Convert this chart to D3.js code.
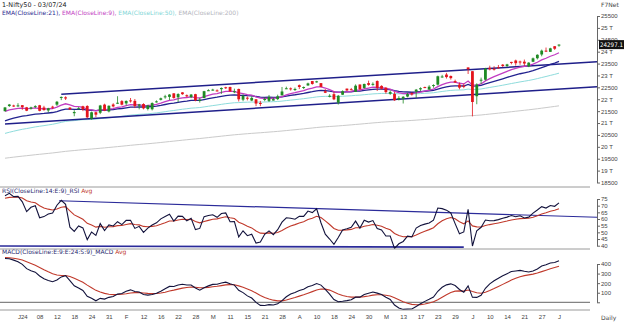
<!DOCTYPE html>
<html>
<head>
<meta charset="utf-8">
<script src="https://cdn.jsdelivr.net/npm/d3@7"></script>
<style>
  body { margin: 0; background: #fff; }
  svg { display: block; font-family: "DejaVu Sans", Verdana, sans-serif; }
  .axis text { fill: #444; font-size: 6px; }
  .axis line, .axis path { stroke: #666; }
</style>
</head>
<body>
<div id="chart"></div>
<script>
// --- Data: Nifty50 daily candles ---
const dates = [
  '2023-12-27','2023-12-28','2023-12-29','2024-01-01','2024-01-02','2024-01-03','2024-01-04','2024-01-05',
  '2024-01-08','2024-01-09','2024-01-10','2024-01-11','2024-01-12','2024-01-15','2024-01-16','2024-01-17',
  '2024-01-18','2024-01-19','2024-01-20','2024-01-23','2024-01-24','2024-01-25','2024-01-29','2024-01-30',
  '2024-01-31','2024-02-01','2024-02-02','2024-02-05','2024-02-06','2024-02-07','2024-02-08','2024-02-09',
  '2024-02-12','2024-02-13','2024-02-14','2024-02-15','2024-02-16','2024-02-19','2024-02-20','2024-02-21',
  '2024-02-22','2024-02-23','2024-02-26','2024-02-27','2024-02-28','2024-02-29','2024-03-01','2024-03-02',
  '2024-03-04','2024-03-05','2024-03-06','2024-03-07','2024-03-11','2024-03-12','2024-03-13','2024-03-14',
  '2024-03-15','2024-03-18','2024-03-19','2024-03-20','2024-03-21','2024-03-22','2024-03-26','2024-03-27',
  '2024-03-28','2024-04-01','2024-04-02','2024-04-03','2024-04-04','2024-04-05','2024-04-08','2024-04-09',
  '2024-04-10','2024-04-12','2024-04-15','2024-04-16','2024-04-18','2024-04-19','2024-04-22','2024-04-23',
  '2024-04-24','2024-04-25','2024-04-26','2024-04-29','2024-04-30','2024-05-02','2024-05-03','2024-05-06',
  '2024-05-07','2024-05-08','2024-05-09','2024-05-10','2024-05-13','2024-05-14','2024-05-15','2024-05-16',
  '2024-05-17','2024-05-18','2024-05-21','2024-05-22','2024-05-23','2024-05-24','2024-05-27','2024-05-28',
  '2024-05-29','2024-05-30','2024-05-31','2024-06-03','2024-06-04','2024-06-05','2024-06-06','2024-06-07',
  '2024-06-10','2024-06-11','2024-06-12','2024-06-13','2024-06-14','2024-06-18','2024-06-19','2024-06-20',
  '2024-06-21','2024-06-24','2024-06-25','2024-06-26','2024-06-27','2024-06-28','2024-07-01','2024-07-02',
  '2024-07-03'
];
const opens = [
  21497,21715,21737,21727,21751,21661,21605,21705,21747,21653,21529,21688,21773,22054,22081,21647,
  21414,21615,21706,21716,21185,21454,21433,21775,21487,21780,21812,21921,21825,21952,21932,21727,
  21800,21590,21578,21906,21977,22096,22099,22249,22082,22290,22169,22090,22214,21935,22049,22379,
  22403,22371,22423,22505,22517,22334,22432,21982,22065,21946,21998,21844,21989,21932,21947,22005,
  22163,22455,22458,22389,22592,22486,22579,22765,22721,22677,22339,22125,22213,21861,22190,22447,
  22421,22316,22620,22475,22679,22623,22766,22561,22489,22231,22224,21990,22027,22113,22255,22319,
  22415,22512,22405,22577,22614,22930,23038,22977,22762,22617,22568,23337,23180,22128,22798,22821,
  23320,23283,23344,23453,23399,23570,23629,23587,23580,23382,23577,23724,23881,24045,23993,24229,
  24292
];
const highs = [
  21675,21801,21770,21835,21755,21678,21685,21749,21763,21724,21641,21726,21928,22115,22124,21670,
  21539,21670,21727,21750,21482,21459,21764,21813,21741,21832,22127,21964,21951,22053,22011,21804,
  21832,21766,21870,21953,22069,22187,22216,22249,22253,22297,22202,22218,22229,22060,22353,22420,
  22440,22416,22497,22525,22526,22446,22447,22204,22120,22124,21999,21931,22081,22180,22073,22193,
  22516,22529,22496,22491,22620,22537,22697,22768,22775,22677,22427,22213,22327,22180,22375,22447,
  22476,22626,22620,22655,22783,22711,22794,22588,22499,22369,22307,22131,22131,22270,22298,22432,
  22502,22530,22591,22629,22993,23026,23110,23000,22825,22705,22653,23338,23180,22670,22910,23320,
  23411,23389,23441,23481,23490,23573,23665,23624,23668,23558,23754,23890,24087,24174,24164,24237,
  24309
];
const lows = [
  21495,21678,21676,21680,21555,21500,21565,21629,21492,21517,21448,21593,21715,21963,21969,21550,
  21285,21575,21500,21192,21137,21247,21375,21501,21448,21658,21805,21741,21738,21860,21629,21575,
  21574,21530,21530,21860,21949,22022,21969,22024,21875,22186,22086,22046,21915,21860,22048,22355,
  22362,22327,22224,22430,22318,22257,21906,21918,21952,21921,21711,21710,21916,21884,21947,21963,
  22163,22428,22364,22347,22427,22428,22568,22612,22696,22503,22259,22079,21962,21777,22180,22349,
  22384,22305,22385,22441,22568,22567,22348,22409,22232,22185,21932,21950,21821,22081,22152,22054,
  22345,22467,22404,22483,22577,22908,22871,22825,22685,22417,22465,23062,21281,21791,22642,22789,
  23215,23206,23295,23354,23354,23467,23413,23450,23399,23350,23562,23673,23806,23985,23992,24074,
  24207
];
const closes = [
  21655,21779,21731,21742,21666,21518,21658,21711,21513,21545,21619,21647,21895,22097,22032,21572,
  21462,21622,21572,21239,21453,21352,21738,21522,21726,21698,21854,21772,21929,21931,21718,21783,
  21616,21743,21840,21911,22041,22122,22197,22055,22218,22213,22122,22198,21951,21983,22339,22379,
  22406,22356,22474,22494,22333,22336,21998,22147,22023,22056,21818,21839,22012,22096,22005,22124,
  22327,22462,22453,22434,22515,22514,22666,22643,22753,22519,22272,22147,21996,22147,22336,22368,
  22402,22570,22419,22643,22604,22648,22476,22443,22302,22302,21958,22055,22104,22218,22201,22403,
  22466,22502,22529,22597,22967,22957,22932,22888,22704,22488,22531,23264,21885,22620,22821,23290,
  23259,23264,23323,23399,23466,23558,23516,23567,23501,23538,23721,23869,24044,24011,24141,24124,
  24297.1
];
const prevClose = 21441;

const emaPeriods = [21, 9, 50, 200];
const emaSeeds = [21030, 21450, 20520, 19500];
const emaColors = ['#23238f', '#c23cc2', '#8edcdc', '#cacaca'];
const rsiSeedGain = 80, rsiSeedLoss = 28, rsiAvgSeed = 75;
const macdFastSeed = 21450, macdSlowSeed = 20980, macdSignalSeed = 470;

// hand-drawn trend lines: [bar index, value]
const priceChannelUpper = [[13, 22210], [128, 23475]];
const priceChannelLower = [[0, 20956], [128, 22428]];
const rsiTrendUpper = [[12.5, 73.7], [128, 62.2]];
const rsiTrendLower = [[-1.2, 39.8], [106, 38.9]];

// x tick labels
const tickDates = ['2024-01-02','2024-01-08','2024-01-12','2024-01-18','2024-01-24','2024-01-31','2024-02-06','2024-02-12',
  '2024-02-16','2024-02-22','2024-02-28','2024-03-04','2024-03-11','2024-03-15','2024-03-21','2024-03-28','2024-04-04',
  '2024-04-10','2024-04-18','2024-04-24','2024-04-30','2024-05-07','2024-05-13','2024-05-17','2024-05-23','2024-05-29',
  '2024-06-04','2024-06-10','2024-06-14','2024-06-21','2024-06-27','2024-07-03'];
const tickLabels = ['J24','08','12','18','24','31','F','12','16','22','28','M','11','15','21','28','A',
  '10','18','24','30','M','13','17','23','29','J','10','14','21','27','J'];

const priceTicks = d3.range(18500, 25501, 500);
const rsiTicks = [40, 45, 50, 55, 60, 65, 70, 75];
const macdTicks = [0, 100, 200, 300, 400];

// --- Indicators ---
function ema(values, period, seed) {
  const k = 2 / (period + 1);
  let e = seed;
  return values.map((v) => (e = e + k * (v - e)));
}

const emaLines = emaPeriods.map((p, i) => ema(closes, p, emaSeeds[i]));

let avgGain = rsiSeedGain, avgLoss = rsiSeedLoss;
const rsi = closes.map((c, i) => {
  const ch = c - (i === 0 ? prevClose : closes[i - 1]);
  avgGain = (avgGain * 13 + Math.max(ch, 0)) / 14;
  avgLoss = (avgLoss * 13 + Math.max(-ch, 0)) / 14;
  return 100 - 100 / (1 + avgGain / avgLoss);
});
const rsiAvg = ema(rsi, 9, rsiAvgSeed);

const fast = ema(closes, 9, macdFastSeed);
const slow = ema(closes, 24, macdSlowSeed);
const macd = fast.map((f, i) => f - slow[i]);
const macdSignal = ema(macd, 9, macdSignalSeed);

// --- Layout ---
const width = 624, height = 323;
const axisX = 597, panelRight = 590;
const svg = d3.select('#chart').append('svg').attr('width', width).attr('height', height);

const x = d3.scaleLinear().domain([0, dates.length - 1]).range([5, 559]);
const yPrice = d3.scaleLinear().domain([18500, 25500]).range([182.5, 16]);
const yRsi = d3.scaleLinear().domain([40, 75]).range([245.7, 199]);
const yMacd = d3.scaleLinear().domain([0, 400]).range([302.3, 264]);

const defs = svg.append('defs');
function clip(id, y0, y1) {
  defs.append('clipPath').attr('id', id).append('rect')
    .attr('x', 0).attr('y', y0).attr('width', axisX).attr('height', y1 - y0);
  return svg.append('g').attr('clip-path', `url(#${id})`);
}
const gMain = clip('clipMain', 8, 187);
const gRsi = clip('clipRsi', 188, 249);
const gMacd = clip('clipMacd', 250, 310);

// panel separators
[187, 249, 310].forEach((yy) => {
  svg.append('line').attr('x1', 0).attr('x2', panelRight).attr('y1', yy).attr('y2', yy)
    .attr('stroke', '#9a9a9a').attr('stroke-width', 1);
});

const lineIdx = (y) => d3.line().x((d, i) => x(i)).y((d) => y(d));
function trend(g, pts, y, color, w, xEnd) {
  const [a, b] = pts;
  const slope = (b[1] - a[1]) / (b[0] - a[0]);
  const iEnd = xEnd != null ? x.invert(xEnd) : b[0];
  g.append('line')
    .attr('x1', x(a[0])).attr('y1', y(a[1]))
    .attr('x2', x(iEnd)).attr('y2', y(a[1] + slope * (iEnd - a[0])))
    .attr('stroke', color).attr('stroke-width', w);
}

// --- Main panel ---
// EMA 200 / 50 behind
[3, 2].forEach((k) => {
  gMain.append('path').datum(emaLines[k]).attr('d', lineIdx(yPrice))
    .attr('fill', 'none').attr('stroke', emaColors[k]).attr('stroke-width', 1);
});
trend(gMain, priceChannelUpper, yPrice, '#1f1f8a', 1.5, axisX);
trend(gMain, priceChannelLower, yPrice, '#1f1f8a', 1.5, axisX);
[0, 1].forEach((k) => {
  gMain.append('path').datum(emaLines[k]).attr('d', lineIdx(yPrice))
    .attr('fill', 'none').attr('stroke', emaColors[k]).attr('stroke-width', 1.3);
});

const candles = gMain.append('g').selectAll('g').data(dates).join('g');
const col = (i) => (closes[i] >= opens[i] ? '#1f8a24' : '#e3141c');
candles.append('line')
  .attr('x1', (d, i) => x(i)).attr('x2', (d, i) => x(i))
  .attr('y1', (d, i) => yPrice(highs[i])).attr('y2', (d, i) => yPrice(lows[i]))
  .attr('stroke', (d, i) => col(i)).attr('stroke-width', 0.8);
candles.append('rect')
  .attr('x', (d, i) => x(i) - 1.4).attr('width', 2.8)
  .attr('y', (d, i) => yPrice(Math.max(opens[i], closes[i])))
  .attr('height', (d, i) => Math.max(1, Math.abs(yPrice(opens[i]) - yPrice(closes[i]))))
  .attr('fill', (d, i) => col(i));

// --- RSI panel ---
trend(gRsi, rsiTrendUpper, yRsi, '#2b2b9a', 1.2, axisX);
trend(gRsi, rsiTrendLower, yRsi, '#2b2b9a', 1.6);
gRsi.append('path').datum(rsiAvg).attr('d', lineIdx(yRsi))
  .attr('fill', 'none').attr('stroke', '#c0392b').attr('stroke-width', 1.1);
gRsi.append('path').datum(rsi).attr('d', lineIdx(yRsi))
  .attr('fill', 'none').attr('stroke', '#12123c').attr('stroke-width', 1.1);

// --- MACD panel ---
gMacd.append('line').attr('x1', 0).attr('x2', panelRight)
  .attr('y1', yMacd(0)).attr('y2', yMacd(0)).attr('stroke', '#666').attr('stroke-width', 1);
gMacd.append('path').datum(macdSignal).attr('d', lineIdx(yMacd))
  .attr('fill', 'none').attr('stroke', '#c0392b').attr('stroke-width', 1.1);
gMacd.append('path').datum(macd).attr('d', lineIdx(yMacd))
  .attr('fill', 'none').attr('stroke', '#12123c').attr('stroke-width', 1.1);

// --- Axes ---
function rightAxis(y, ticks, fmt) {
  return svg.append('g').attr('class', 'axis').attr('transform', `translate(${axisX},0)`)
    .call(d3.axisRight(y).tickValues(ticks).tickSize(3).tickSizeOuter(0).tickPadding(1).tickFormat(fmt));
}
rightAxis(yPrice, priceTicks, (v) => (v % 1000 === 0 ? v / 1000 + ' T' : v));
rightAxis(yRsi, rsiTicks, (v) => v);
rightAxis(yMacd, macdTicks, (v) => (v === 0 ? '' : v));

const tickIdx = tickDates.map((d) => dates.indexOf(d));
const xAxis = svg.append('g').attr('class', 'axis').attr('transform', 'translate(0,313)')
  .call(d3.axisBottom(x).tickValues(tickIdx).tickSize(0).tickPadding(2)
    .tickFormat((v, i) => tickLabels[i]));
xAxis.select('.domain').remove();

// last price tag
const last = closes[closes.length - 1];
svg.append('rect').attr('x', 599).attr('y', yPrice(last) - 4.5).attr('width', 25).attr('height', 9).attr('fill', '#111');
svg.append('text').attr('x', 600).attr('y', yPrice(last) + 2.2).attr('fill', '#fff')
  .attr('font-size', 6.2).attr('textLength', 23).attr('lengthAdjust', 'spacingAndGlyphs')
  .text(last.toFixed(1));

// --- Texts ---
svg.append('text').attr('x', 2).attr('y', 6.5).attr('font-size', 6.4).attr('fill', '#222').text('1-Nifty50 - 03/07/24');
const legend = svg.append('text').attr('x', 2).attr('y', 14.5).attr('font-size', 6);
const legendNames = ['EMA(CloseLine:21), ', 'EMA(CloseLine:9), ', 'EMA(CloseLine:50), ', 'EMA(CloseLine:200)'];
const legendColors = ['#2a2a90', '#c23cc2', '#7fd6d6', '#b4b4bc'];
legendNames.forEach((t, i) => legend.append('tspan').attr('fill', legendColors[i]).text(t));

const rsiTitle = svg.append('text').attr('x', 2).attr('y', 192.5).attr('font-size', 6);
rsiTitle.append('tspan').attr('fill', '#2a2a70').text('RSI(CloseLine:14:E:9)_RSI ');
rsiTitle.append('tspan').attr('fill', '#c0392b').text('Avg');
const macdTitle = svg.append('text').attr('x', 2).attr('y', 254).attr('font-size', 6);
macdTitle.append('tspan').attr('fill', '#2a2a70').text('MACD(CloseLine:E:9:E:24:S:9)_MACD ');
macdTitle.append('tspan').attr('fill', '#c0392b').text('Avg');

svg.append('text').attr('x', 601).attr('y', 7).attr('font-size', 6).attr('fill', '#444').text('F7Net');
svg.append('text').attr('x', 601).attr('y', 320).attr('font-size', 6).attr('fill', '#444').text('Daily');
</script>
</body>
</html>
